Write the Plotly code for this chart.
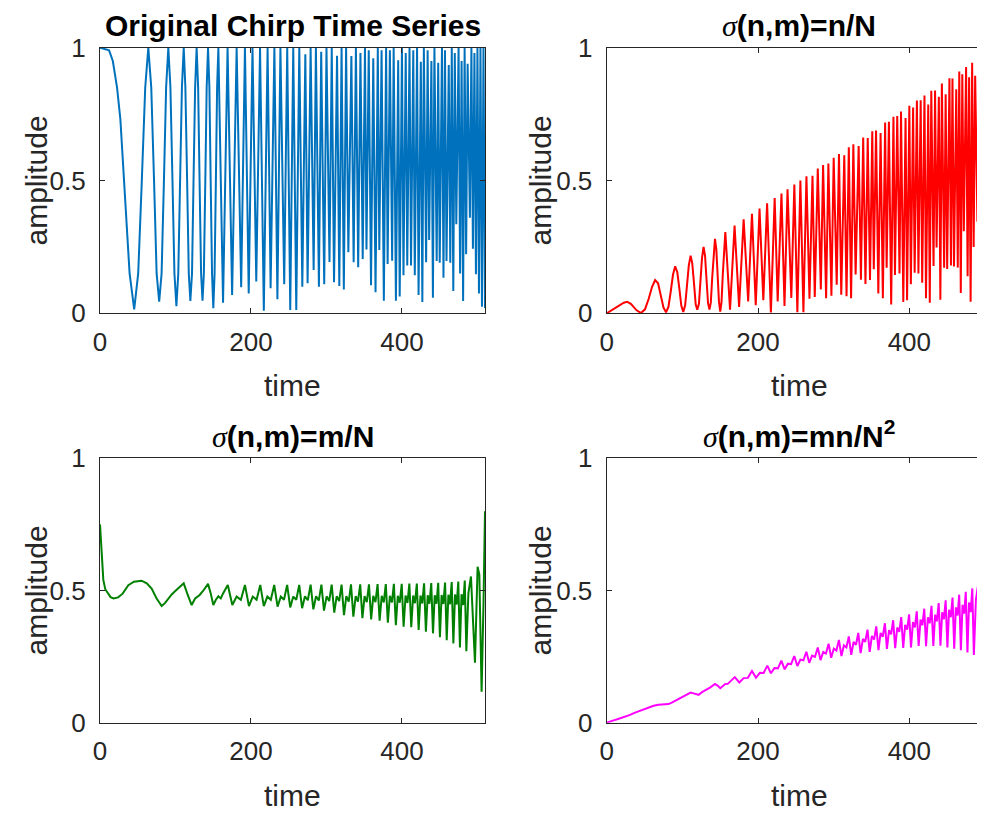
import plotly.graph_objects as go

# ---------------- data ----------------
t_chirp = [0, 12, 17, 22.6, 27, 32, 39.2, 45.3, 50.6, 55.4, 59.9, 64, 67.9, 71.6, 75.0, 78.4, 81.6, 84.7, 87.6, 90.5,
           93.3, 96, 98.6, 101.2, 103.7, 106.1, 108.5, 110.9, 113.1, 115.4, 117.6, 119.7, 121.9, 123.9, 126.0, 128,
           130.0, 131.9, 133.9, 135.8, 137.6, 139.5, 141.3, 143.1, 144.9, 146.6, 148.4, 150.1, 151.8, 153.5, 155.1, 156.8,
           163, 169, 175, 181, 187, 192, 197, 202, 207, 212, 217, 222, 226, 231, 235, 239, 244, 248, 252, 256, 260, 264,
           268, 272, 275, 279, 283, 286, 290, 293, 297, 300, 304, 307, 310, 314, 317, 320, 323, 326, 329, 333, 336, 339,
           342, 345, 348, 351, 353, 356, 359, 362, 365, 368, 370, 373, 376, 379, 381, 384, 387, 389, 392, 395, 397, 400,
           402, 405, 407, 410, 412, 415, 417, 420, 422, 425, 427, 429, 432, 434, 436, 439, 441, 443, 446, 448, 450, 453,
           455, 457, 459, 462, 464, 466, 468, 470, 472, 475, 477, 479, 481, 483, 485, 487, 490, 492, 494, 496, 498, 500,
           502, 504, 506, 508, 510]

amp_original = [1, .99, .95, .85, .73, .5, .15, .015, .15, .5, .85, 1, .85, .5, .15, .044, .15, .5, .85, 1,
                .85, .5, .15, .027, .15, .5, .85, 1, .85, .5, .15, .047, .15, .5, .85, 1,
                .85, .5, .15, .047, .15, .5, .85, 1, .85, .5, .15, .019, .15, .5, .85, 1,
                .04, 1, .069, 1, .098, 1, .075, 1, .12, 1, .01, 1, .094, 1, .053, 1, .109, 1, .012, 1, .012, 1,
                .1, .975, .113, 1, .163, 1, .1, .985, .109, 1, .193, 1, .117, .97, .103, 1, .09, 1, .23, .969, .192, 1,
                .173, .98, .204, 1, .24, .99, .106, .96, .079, 1, .238, .99, .047, 1, .186, .99, .198, 1, .047, .953, .063, 1,
                .143, .98, .18, 1, .18, .99, .143, 1, .069, .947, .043, 1, .192, .99, .276, .95, .059, 1, .197, .943, .19, 1,
                .134, .99, .197, .935, .19, 1, .084, .98, .335, 1, .15, .95, .046, 1, .222, .94, .36, 1, .243, .98, .147, 1,
                .075, 1, .025, 1, .02]

amp_n_over_N = [0, .023, .032, .040, .043, .036, .012, .001, .015, .054, .099, .125, .113, .070, .022, .004, .024, .083, .145, .177,
                .155, .094, .029, .005, .030, .104, .180, .217, .188, .113, .034, .013, .036, .121, .209, .25,
                .216, .129, .039, .014, .040, .136, .235, .28, .241, .143, .043, .006, .044, .15, .257, .306,
                .014, .330, .024, .3535, .045, .375, .030, .3945, .049, .414, .003, .4336, .045, .4512, .028, .4668, .058, .4844,
                .004, .5, .004, .5156,
                .055, .518, .061, .545, .090, .5586, .057, .564, .066, .5859, .108, .5996, .070, .595, .064, .625, .057, .6367,
                .146, .630, .126, .6621,
                .11, .660, .125, .6855, .1655, .688, .0743, .679, .0563, .7188, .172, .721, .033, .7402, .144, .7425,
                .1497, .7598, .043, .735, .0488, .7813,
                .109, .775, .153, .8008, .15, .802, .115, .8203, .0569, .786, .04, .8379, .178, .839, .248, .815,
                .0508, .8652, .1716, .825, .167, .8848,
                .18, .884, .1766, .8437, .172, .9102, .0768, .90, .309, .9277, .1397, .889, .0432, .9434, .25, .894,
                .345, .961, .2345, .949, .143, .9766,
                .0735, .9844, .025, .992, .02]

t_slow = [0, 1.5, 3, 4.4, 7, 10, 14, 18, 24, 30, 37.5, 45, 55, 62, 68.4, 75, 81.7, 86, 90.5, 95,
          99, 105, 110.9, 116, 121.4, 126, 132, 137, 143.1, 146.6, 150.1, 153.5, 156.8, 160, 163.2, 169.3,
          175.3, 181, 186.6, 192, 197.3, 202.4, 207.4, 212.3, 217, 221.7, 226.3, 230.8, 235.2, 239.5, 243.7, 247.9,
          252, 256, 260, 263.9, 267.7, 271.5, 275.3, 279, 282.6, 286.2, 289.8, 293.3, 296.7, 300.2, 303.6, 306.9,
          310.3, 313.5, 316.8, 320, 323.2, 326.3, 329.5, 332.5, 335.6, 338.7, 341.7, 344.7, 347.6, 350.5, 353.4, 356.3,
          359.2, 362, 364.9, 367.7, 370.4, 373.2, 375.9, 378.6, 381.3, 384, 386.7, 389.3, 391.9, 394.5, 397.1, 399.7,
          402.2, 404.8, 407.3, 409.8, 412.3, 414.8, 417.2, 419.7, 422.1, 424.5, 426.9, 429.3, 431.7, 434.1, 436.4, 438.8,
          441.1, 443.4, 445.7, 448, 450.3, 452.5, 454.8, 457.1, 459.3, 461.5, 463.7, 465.9, 468.1, 470.3, 472.5, 474.6,
          476.8, 478.9, 481.1, 483.2, 485.3,
          488, 491.4, 496.7, 500.2, 502.5, 505.5, 508, 510]

amp_m_over_N = [.75, .66, .58, .54, .505, .49, .475, .47, .474, .488, .52, .533, .537, .527, .507, .47, .441, .452, .47, .485,
                .496, .51, .527, .485, .445, .47, .483, .5, .525, .49, .445, .465, .478, .47, .49, .521,
                .445, .477, .465, .521, .441, .477, .465, .521, .441, .477, .465, .521, .439, .477, .465, .521,
                .436, .477, .465, .521, .433, .478, .463, .522, .429, .478, .462, .522, .424, .478, .46, .522,
                .416, .478, .46, .522, .407, .479, .458, .523, .401, .479, .458, .523, .395, .479, .456, .523,
                .391, .48, .456, .524, .386, .48, .455, .524, .378, .48, .455, .525, .369, .48, .454, .525,
                .363, .481, .453, .526, .361, .481, .452, .526, .351, .481, .451, .527, .344, .482, .45, .528,
                .338, .482, .45, .529, .323, .483, .449, .53, .312, .484, .448, .532, .30, .485, .447, .534,
                .285, .486, .445, .538, .27,
                .49, .553, .227, .59, .56, .117, .45, .8]

amp_mn_over_N2 = [0, .0019, .0034, .0046, .0069, .0096, .013, .0165, .0222, .0286, .0381, .0468, .0577, .0638, .0677, .0688,
                  .0704, .0759, .0831, .090,
                  .0959, .1046, .1141, .1099, .1055, .1157, .1245, .1338, .1467, .1403, .1305, .1394, .1464, .1469, .1562, .1723,
                  .1524, .1686, .1695, .1954, .170, .1886, .1884, .216, .1869, .2065, .2055, .2349, .2017, .2231, .2213, .2523,
                  .2146, .2385, .2361, .2685, .2264, .2535, .249, .2844, .2368, .2672, .2615, .299, .2457, .2803, .2728, .3129,
                  .2521, .2927, .2846, .3263, .2569, .3053, .2948, .3396, .2629, .3169, .3057, .3521, .2682, .3279, .3147, .364,
                  .2743, .3394, .325, .3763, .2793, .3499, .334, .3875, .2815, .36, .3437, .3992, .2824, .3698, .3521, .4099,
                  .2851, .3803, .3604, .421, .2907, .3897, .3683, .4312, .2894, .3988, .376, .4419, .2901, .4087, .3835, .4525,
                  .2912, .4174, .3917, .4629, .2841, .4269, .3988, .4732, .2799, .4363, .4057, .4841, .2743, .4455, .4125, .495,
                  .2654, .4546, .4181, .5078, .2559,
                  .467, .5308, .2202, .5764, .5496, .1155, .4465, .797]

x_tick_vals = [0, 200, 400]
x_tick_text = ["0", "200", "400"]
y_tick_vals = [0, 0.5, 1]
y_tick_text = ["0", "0.5", "1"]

assert len(t_chirp) == len(amp_original) == len(amp_n_over_N)
assert len(t_slow) == len(amp_m_over_N) == len(amp_mn_over_N2)

# ---------------- layout helpers (pixel geometry) ----------------
# the page body adds an 8 px offset, so the design is shifted by -8 px
OFF = 8
W, H = 985 - OFF, 815 - OFF
def fx(p): return (p - OFF) / W
def fy(p): return 1 - (p - OFF) / H

LX = (100, 485)
RX = (606.7, 985)
TY = (47.7, 313.3)
BY = (458.3, 722.7)

AX = "#262626"
FONT = "Liberation Sans, Arial, Helvetica, sans-serif"
TICK_SIZE = 26
LABEL_SIZE = 30
TITLE_SIZE = 30
LW = 2.0

fig = go.Figure()
series = [
    (t_chirp, amp_original, "#0072BD", "x", "y"),
    (t_chirp, amp_n_over_N, "#FF0000", "x2", "y2"),
    (t_slow, amp_m_over_N, "#008000", "x3", "y3"),
    (t_slow, amp_mn_over_N2, "#FF00FF", "x4", "y4"),
]
for xs, ys, col, xa, ya in series:
    fig.add_trace(go.Scatter(x=xs, y=ys, mode="lines", line=dict(color=col, width=LW),
                             xaxis=xa, yaxis=ya, showlegend=False, hoverinfo="skip"))

def xaxis(dom, rng, anchor):
    return dict(domain=[fx(dom[0]), min(1.0, fx(dom[1]))], range=rng, anchor=anchor, automargin=False,
                tickmode="array", tickvals=x_tick_vals, ticktext=x_tick_text,
                ticks="inside", ticklen=5, tickwidth=1.2, tickcolor=AX,
                showline=True, linecolor=AX, linewidth=1.3, mirror="ticks",
                showgrid=False, zeroline=False, ticklabelstandoff=5,
                tickfont=dict(family=FONT, size=TICK_SIZE, color=AX))

def yaxis(dom, anchor, mirror):
    return dict(domain=[fy(dom[1]), fy(dom[0])], range=[0, 1], anchor=anchor, automargin=False,
                tickmode="array", tickvals=y_tick_vals, ticktext=y_tick_text,
                ticks="inside", ticklen=5, tickwidth=1.2, tickcolor=AX,
                showline=True, linecolor=AX, linewidth=1.3, mirror=mirror,
                showgrid=False, zeroline=False, ticklabelstandoff=8,
                tickfont=dict(family=FONT, size=TICK_SIZE, color=AX))

SIG = "<span style=\"font-family:Liberation Serif;font-weight:normal\"><i>σ</i></span>"
titles = [
    ("Original Chirp Time Series", (LX[0] + LX[1]) / 2, 25),
    (SIG + "(n,m)=n/N", 799, 26),
    (SIG + "(n,m)=m/N", (LX[0] + LX[1]) / 2, 436),
    (SIG + "(n,m)=mn/N<sup>2</sup>", 799, 434),
]
annotations = []
for txt, cx, cy in titles:
    annotations.append(dict(text=txt, x=fx(cx), y=fy(cy), xref="paper", yref="paper",
                            xanchor="center", yanchor="middle", showarrow=False,
                            font=dict(family=FONT, size=TITLE_SIZE, color="black", weight="bold")))
for cx, cy in [((LX[0] + LX[1]) / 2, 386), (799, 386), ((LX[0] + LX[1]) / 2, 795), (799, 795)]:
    annotations.append(dict(text="time", x=fx(cx), y=fy(cy), xref="paper", yref="paper",
                            xanchor="center", yanchor="middle", showarrow=False,
                            font=dict(family=FONT, size=LABEL_SIZE, color=AX)))
for cx, cy in [(36, (TY[0] + TY[1]) / 2), (540, (TY[0] + TY[1]) / 2),
               (36, (BY[0] + BY[1]) / 2), (540, (BY[0] + BY[1]) / 2)]:
    annotations.append(dict(text="amplitude", x=fx(cx), y=fy(cy), xref="paper", yref="paper",
                            xanchor="center", yanchor="middle", showarrow=False, textangle=-90,
                            font=dict(family=FONT, size=LABEL_SIZE, color=AX)))

fig.update_layout(
    width=W, height=H,
    margin=dict(l=0, r=0, t=0, b=0, pad=0, autoexpand=False),
    paper_bgcolor="white", plot_bgcolor="white",
    xaxis=xaxis(LX, [0, 510], "y"),
    yaxis=yaxis(TY, "x", "ticks"),
    xaxis2=xaxis(RX, [0, 500], "y2"),
    yaxis2=yaxis(TY, "x2", False),
    xaxis3=xaxis(LX, [0, 510], "y3"),
    yaxis3=yaxis(BY, "x3", "ticks"),
    xaxis4=xaxis(RX, [0, 500], "y4"),
    yaxis4=yaxis(BY, "x4", False),
    annotations=annotations,
    showlegend=False,
)

fig.write_html("out.html")
